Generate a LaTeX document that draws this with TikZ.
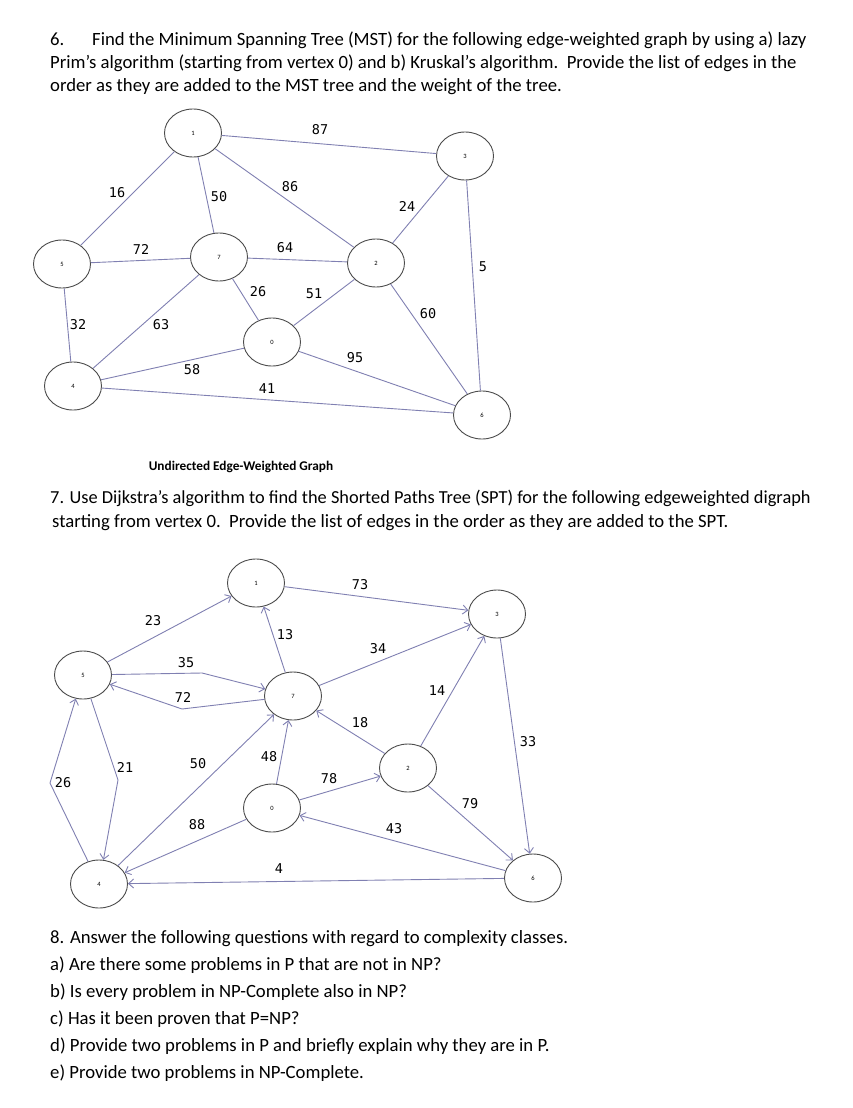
\documentclass[tikz,border=0pt]{standalone}
\usepackage{fontspec}
\setmainfont{Carlito}
\newfontfamily\pesofont{DejaVu Sans Mono}
\usetikzlibrary{shapes.geometric,arrows.meta}

\definecolor{corlinha}{RGB}{128,128,178}
\definecolor{contorno}{RGB}{75,75,75}

\tikzset{
  vertice/.style={ellipse, draw=contorno, line width=0.9pt, minimum width=57pt,
    minimum height=48pt, inner sep=0pt, font=\fontsize{6.5}{7}\selectfont},
  aresta/.style={draw=corlinha, line width=0.9pt},
  arco/.style={aresta, -{Straight Barb[length=5pt,width=9pt]}},
  peso/.style={inner sep=0pt, font=\pesofont\fontsize{13.5}{14}\selectfont},
  texto/.style={anchor=base west, inner sep=0pt, font=\fontsize{18.7}{23}\selectfont}
}

\begin{document}
\begin{tikzpicture}[x=1pt, y=-1pt]

  % folha
  \fill[white] (0,0) rectangle (852,1108);
  \useasboundingbox (0,0) rectangle (852,1108);

  % questao 6
  \node[texto] at (50,46) {6.};
  \node[texto] at (92,46) {Find the Minimum Spanning Tree (MST) for the following edge-weighted graph by using a) lazy};
  \node[texto] at (50,69) {Prim’s algorithm (starting from vertex 0) and b) Kruskal’s algorithm.\ \ Provide the list of edges in the};
  \node[texto] at (50,92) {order as they are added to the MST tree and the weight of the tree.};

  % grafo nao direcionado
  \node[vertice] (u1) at (193,133) {1};
  \node[vertice] (u3) at (465,156) {3};
  \node[vertice] (u5) at (62,264) {5};
  \node[vertice] (u7) at (219,257) {7};
  \node[vertice] (u2) at (376,263) {2};
  \node[vertice] (u0) at (272,342) {0};
  \node[vertice] (u4) at (73,386) {4};
  \node[vertice] (u6) at (482,415) {6};

  % arestas
  \draw[aresta] (u1) -- (u3);
  \draw[aresta] (u1) -- (u5);
  \draw[aresta] (u1) -- (u7);
  \draw[aresta] (u1) -- (u2);
  \draw[aresta] (u3) -- (u2);
  \draw[aresta] (u3) -- (u6);
  \draw[aresta] (u5) -- (u7);
  \draw[aresta] (u7) -- (u2);
  \draw[aresta] (u5) -- (u4);
  \draw[aresta] (u7) -- (u4);
  \draw[aresta] (u7) -- (u0);
  \draw[aresta] (u0) -- (u2);
  \draw[aresta] (u2) -- (u6);
  \draw[aresta] (u0) -- (u4);
  \draw[aresta] (u0) -- (u6);
  \draw[aresta] (u4) -- (u6);

  % pesos
  \node[peso] at (320,130) {87};
  \node[peso] at (117,193) {16};
  \node[peso] at (219,197) {50};
  \node[peso] at (290,187) {86};
  \node[peso] at (407,206) {24};
  \node[peso] at (141,249) {72};
  \node[peso] at (285,248) {64};
  \node[peso] at (483,267) {5};
  \node[peso] at (258,292) {26};
  \node[peso] at (314,294) {51};
  \node[peso] at (428,314) {60};
  \node[peso] at (78,325) {32};
  \node[peso] at (161,325) {63};
  \node[peso] at (355,358) {95};
  \node[peso] at (192,370) {58};
  \node[peso] at (267,389) {41};

  % legenda
  \node[anchor=base, inner sep=0pt, font=\bfseries\fontsize{13.3}{15}\selectfont]
    at (241,470.5) {Undirected Edge-Weighted Graph};

  % questao 7
  \node[texto, font=\fontsize{18.35}{23}\selectfont] at (50,503) {7. Use Dijkstra’s algorithm to find the Shorted Paths Tree (SPT) for the following edgeweighted digraph};
  \node[texto] at (52,527) {starting from vertex 0.\ \ Provide the list of edges in the order as they are added to the SPT.};

  % digrafo
  \node[vertice] (d1) at (256,583) {1};
  \node[vertice] (d3) at (497,614) {3};
  \node[vertice] (d5) at (83,675) {5};
  \node[vertice] (d7) at (293,696) {7};
  \node[vertice] (d2) at (408,768) {2};
  \node[vertice] (d0) at (272,808) {0};
  \node[vertice] (d4) at (99,884) {4};
  \node[vertice] (d6) at (533,878) {6};

  % pontos de dobra
  \coordinate (c35) at (202,673);
  \coordinate (c72) at (182,709);
  \coordinate (c21) at (118,780);
  \coordinate (c26) at (50,783);

  % arcos
  \draw[arco] (d5) -- (d1);
  \draw[arco] (d1) -- (d3);
  \draw[arco] (d7) -- (d1);
  \draw[arco] (d7) -- (d3);
  \draw[arco] (d5) -- (c35) -- (d7);
  \draw[arco] (d7) -- (c72) -- (d5);
  \draw[arco] (d2) -- (d3);
  \draw[arco] (d2) -- (d7);
  \draw[arco] (d3) -- (d6);
  \draw[arco] (d5) -- (c21) -- (d4);
  \draw[arco] (d4) -- (c26) -- (d5);
  \draw[arco] (d4) -- (d7);
  \draw[arco] (d0) -- (d7);
  \draw[arco] (d0) -- (d2);
  \draw[arco] (d0) -- (d4);
  \draw[arco] (d6) -- (d0);
  \draw[arco] (d2) -- (d6);
  \draw[arco] (d6) -- (d4);

  % pesos
  \node[peso] at (360,585) {73};
  \node[peso] at (153,621) {23};
  \node[peso] at (285,635) {13};
  \node[peso] at (378,649) {34};
  \node[peso] at (186,663) {35};
  \node[peso] at (437,691) {14};
  \node[peso] at (183,697) {72};
  \node[peso] at (360,723) {18};
  \node[peso] at (528,742) {33};
  \node[peso] at (125,767) {21};
  \node[peso] at (198,764) {50};
  \node[peso] at (269,757) {48};
  \node[peso] at (63,783) {26};
  \node[peso] at (329,779) {78};
  \node[peso] at (470,804) {79};
  \node[peso] at (197,825) {88};
  \node[peso] at (394,829) {43};
  \node[peso] at (279,869) {4};

  % questao 8
  \node[texto] at (50,943) {8. Answer the following questions with regard to complexity classes.};
  \node[texto] at (50,970) {a) Are there some problems in P that are not in NP?};
  \node[texto] at (50,997) {b) Is every problem in NP-Complete also in NP?};
  \node[texto] at (50,1024) {c) Has it been proven that P=NP?};
  \node[texto] at (50,1051) {d) Provide two problems in P and briefly explain why they are in P.};
  \node[texto] at (50,1078) {e) Provide two problems in NP-Complete.};

\end{tikzpicture}
\end{document}
